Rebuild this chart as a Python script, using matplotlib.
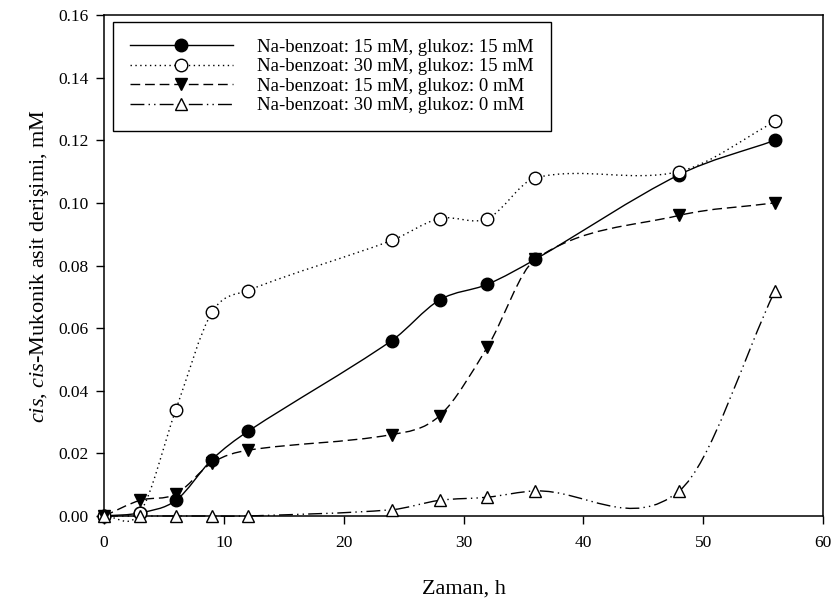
import numpy as np
import matplotlib
matplotlib.use("Agg")
import matplotlib.pyplot as plt
from matplotlib.path import Path
from matplotlib.patches import PathPatch
from matplotlib.lines import Line2D

plt.rcParams["font.family"] = ["Liberation Serif", "DejaVu Serif"]
plt.rcParams["mathtext.fontset"] = "custom"
plt.rcParams["mathtext.rm"] = "Liberation Serif"
plt.rcParams["mathtext.it"] = "Liberation Serif:italic"

# zaman (h)
time_h = [0, 3, 6, 9, 12, 24, 28, 32, 36, 48, 56]

# cis,cis-mukonik asit (mM)
benz15_glu15 = [0.000, 0.001, 0.005, 0.018, 0.027, 0.056, 0.069, 0.074, 0.082, 0.109, 0.120]
benz30_glu15 = [0.000, 0.001, 0.034, 0.065, 0.072, 0.088, 0.095, 0.095, 0.108, 0.110, 0.126]
benz15_glu0 = [0.000, 0.005, 0.007, 0.017, 0.021, 0.026, 0.032, 0.054, 0.082, 0.096, 0.100]
benz30_glu0 = [0.000, 0.000, 0.000, 0.000, 0.000, 0.002, 0.005, 0.006, 0.008, 0.008, 0.072]

labels = [
    "Na-benzoat: 15 mM, glukoz: 15 mM",
    "Na-benzoat: 30 mM, glukoz: 15 mM",
    "Na-benzoat: 15 mM, glukoz: 0 mM",
    "Na-benzoat: 30 mM, glukoz: 0 mM",
]


def smooth_path(x, y):
    """Catmull-Rom style curve through the points, drawn as Bezier segments."""
    x = np.asarray(x, float)
    y = np.asarray(y, float)
    n = len(x)
    d = np.empty(n)
    d[0] = (y[1] - y[0]) / (x[1] - x[0])
    d[-1] = (y[-1] - y[-2]) / (x[-1] - x[-2])
    d[1:-1] = (y[2:] - y[:-2]) / (x[2:] - x[:-2])
    verts = [(x[0], y[0])]
    codes = [Path.MOVETO]
    for i in range(n - 1):
        h = x[i + 1] - x[i]
        verts += [
            (x[i] + h / 3, y[i] + h * d[i] / 3),
            (x[i + 1] - h / 3, y[i + 1] - h * d[i + 1] / 3),
            (x[i + 1], y[i + 1]),
        ]
        codes += [Path.CURVE4] * 3
    return Path(verts, codes)


fig = plt.figure(figsize=(8.37, 6.03), dpi=100)
ax = fig.add_axes([0.1243, 0.1443, 0.859, 0.8308])

styles = [
    dict(ls="-", marker="o", mfc="black"),
    dict(ls=(0, (1, 2.5)), marker="o", mfc="white"),
    dict(ls=(0, (7, 3.5)), marker="v", mfc="black"),
    dict(ls=(0, (10, 3, 1, 3, 1, 3)), marker="^", mfc="white"),
]
series = [benz15_glu15, benz30_glu15, benz15_glu0, benz30_glu0]

handles = []
for yv, st, lab in zip(series, styles, labels):
    patch = PathPatch(smooth_path(time_h, yv), fill=False, edgecolor="black",
                      linewidth=1.0, linestyle=st["ls"], zorder=2, clip_on=False)
    ax.add_patch(patch)
    ax.plot(time_h, yv, linestyle="none", marker=st["marker"], markersize=9,
            markerfacecolor=st["mfc"], markeredgecolor="black",
            markeredgewidth=1.0, zorder=3, clip_on=False)
    handles.append(Line2D([], [], color="black", linewidth=1.0, linestyle=st["ls"],
                          marker=st["marker"], markersize=9, markerfacecolor=st["mfc"],
                          markeredgecolor="black", markeredgewidth=1.0))

ax.set_xlim(0, 60)
ax.set_ylim(0, 0.16)
ax.set_xticks(np.arange(0, 61, 10))
ax.set_yticks(np.arange(0, 0.161, 0.02))
ax.yaxis.set_major_formatter(matplotlib.ticker.FormatStrFormatter("%.2f"))
ax.tick_params(direction="out", length=6, width=1.0, labelsize=12.5, pad=5,
               top=False, right=False)
ax.tick_params(axis="x", pad=8)
for sp in ax.spines.values():
    sp.set_linewidth(1.1)

ax.set_xlabel("Zaman, h", fontsize=16, labelpad=20)
ax.set_ylabel(r"$\mathit{cis}$, $\mathit{cis}$-Mukonik asit derişimi, mM",
              fontsize=16, labelpad=5)

leg = ax.legend(handles, labels, loc="upper left", bbox_to_anchor=(0.0125, 0.986),
                borderaxespad=0, fancybox=False, edgecolor="black", framealpha=1,
                fontsize=13.5, handlelength=5.5, handletextpad=1.3,
                labelspacing=0.12, borderpad=0.9)
leg.get_frame().set_linewidth(1.0)

fig.savefig("out.png", dpi=100)
